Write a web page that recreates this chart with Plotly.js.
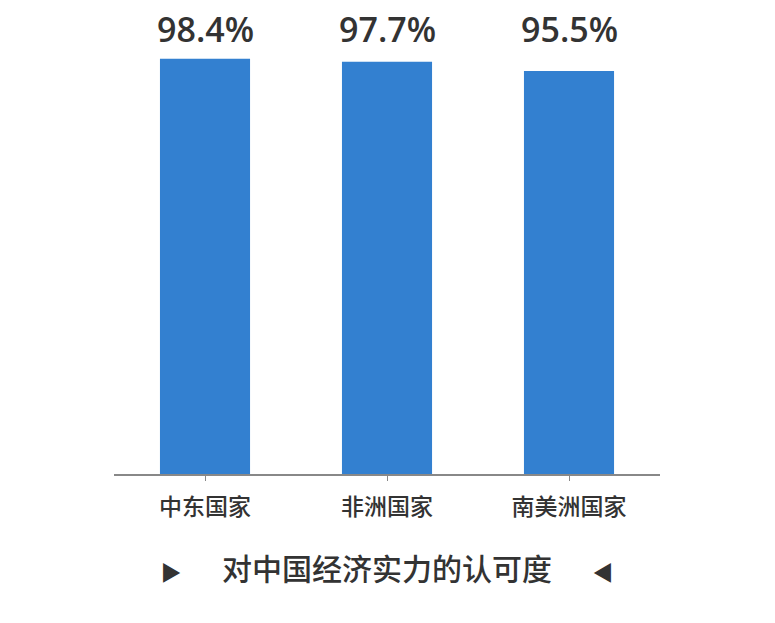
<!DOCTYPE html>
<html>
<head>
<meta charset="utf-8">
<script src="https://cdn.plot.ly/plotly-3.0.1.min.js"></script>
<style>
  html, body { margin: 0; padding: 0; background: #fff; }
  #myDiv { width: 775px; height: 623px; }
</style>
</head>
<body>
<div id="myDiv"></div>
<script>
let regions = ['中东国家', '非洲国家', '南美洲国家'];
let approval = [98.4, 97.7, 95.5];
let chartTitle = '对中国经济实力的认可度';

let fontFamily = 'Open Sans, Noto Sans, Noto Sans CJK SC, sans-serif';
let cjkFamily = 'Noto Sans CJK SC, Noto Sans, sans-serif';

let trace1 = {
  x: regions,
  y: approval,
  type: 'bar',
  marker: { color: '#3380D0' },
  hoverinfo: 'none'
};

// value labels sit on one line above the tallest bar
let topValue = Math.max(...approval);
let labels = regions.map((r, i) => ({
  x: r,
  y: topValue,
  text: approval[i].toFixed(1) + '%',
  showarrow: false,
  yanchor: 'bottom',
  yshift: 5,
  font: { family: fontFamily, size: 34, color: '#333333', weight: 600 }
}));

let nb = '\u00a0';
let layout = {
  width: 775,
  height: 623,
  margin: { l: 114, r: 115, t: 52, b: 149 },
  paper_bgcolor: '#ffffff',
  plot_bgcolor: '#ffffff',
  showlegend: false,
  bargap: 0.505,
  font: { family: cjkFamily, color: '#333333' },
  xaxis: {
    showline: true,
    linecolor: '#888888',
    linewidth: 1.5,
    ticks: 'outside',
    ticklen: 5,
    tickcolor: '#888888',
    ticklabelstandoff: 7,
    tickfont: { family: cjkFamily, size: 23, color: '#333333', weight: 500 },
    title: {
      text: '<span style="font-size:21px">▶</span>' + nb.repeat(6) + chartTitle + nb.repeat(6) + '<span style="font-size:21px">◀</span>',
      font: { family: cjkFamily, size: 30, color: '#333333', weight: 500 },
      standoff: 38
    }
  },
  yaxis: {
    range: [0, 100],
    visible: false,
    showgrid: false,
    zeroline: false
  },
  annotations: labels
};

let data = [trace1];
Plotly.newPlot('myDiv', data, layout, { displayModeBar: false, staticPlot: true });
</script>
</body>
</html>
